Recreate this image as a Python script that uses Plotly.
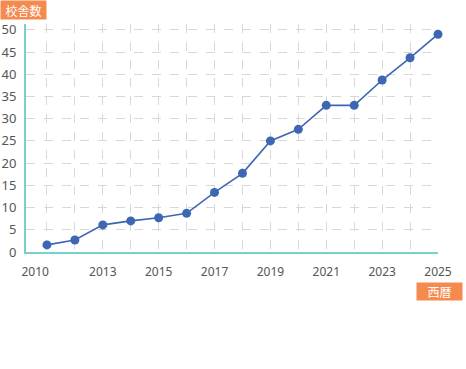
import plotly.graph_objects as go

years = list(range(2011, 2026))
schools = [1.6, 2.7, 6.1, 7.0, 7.7, 8.7, 13.4, 17.7, 25.0, 27.6, 33.0, 33.0, 38.7, 43.7, 49.0]
x_tick_labels = ["2010", "2013", "2015", "2017", "2019", "2021", "2023", "2025"]
y_title = "校舎数"
x_title = "西暦"

W, H = 466, 369
ML, MR, MT, MB = 26, 28, 24, 117
pw, ph = W - ML - MR, H - MT - MB

x_lo, x_hi = 2010.25, 2025
# first label sits just right of the axis start
x_tick_pos = [2010.58] + [float(t) for t in x_tick_labels[1:]]

def px_to_paper(px, py):
    return (px - ML) / pw, (H - MB - py) / ph

color_line = "#3d67b3"
teal = "#74d2cb"
orange = "#f58a4f"

fig = go.Figure()
fig.add_trace(go.Scatter(
    x=years, y=schools, mode="lines+markers",
    line=dict(color=color_line, width=1.6),
    marker=dict(color=color_line, size=9),
    cliponaxis=False, showlegend=False, hoverinfo="x+y",
))

bx1, by1 = px_to_paper(0, 0)
bx2, by2 = px_to_paper(416, 282)

fig.update_layout(
    width=W, height=H,
    margin=dict(l=ML, r=MR, t=MT, b=MB, pad=0, autoexpand=False),
    paper_bgcolor="white", plot_bgcolor="white",
    font=dict(family="Noto Sans, Noto Sans CJK JP, sans-serif", color="#555555"),
    xaxis=dict(
        range=[x_lo, x_hi], tickmode="array", tickvals=x_tick_pos, ticktext=x_tick_labels,
        showgrid=False, zeroline=False, showline=True, linecolor=teal, linewidth=2,
        ticks="", ticklabelstandoff=8, tickfont=dict(size=12, color="#555555"),
        automargin=False,
        minor=dict(tickmode="linear", tick0=2011, dtick=1, showgrid=True,
                   gridcolor="#d8d8d8", griddash="dash", gridwidth=1, ticks=""),
    ),
    yaxis=dict(
        range=[0, 51.3], tickmode="linear", tick0=0, dtick=5,
        showgrid=True, gridcolor="#d8d8d8", griddash="dash", gridwidth=1,
        zeroline=False, showline=True, linecolor=teal, linewidth=2,
        ticks="", ticklabelstandoff=5, tickfont=dict(size=13, color="#555555"),
        automargin=False,
    ),
    annotations=[
        dict(text=y_title, xref="paper", yref="paper", x=bx1, y=by1,
             xanchor="left", yanchor="top", showarrow=False,
             bgcolor=orange, width=45, height=18, borderpad=0,
             font=dict(color="white", size=12, family="Noto Sans CJK JP")),
        dict(text=x_title, xref="paper", yref="paper", x=bx2, y=by2,
             xanchor="left", yanchor="top", showarrow=False,
             bgcolor=orange, width=45, height=17, borderpad=0,
             font=dict(color="white", size=12, family="Noto Sans CJK JP")),
    ],
)

fig.write_html("out.html", config={"displayModeBar": False},
               post_script="document.body.style.margin='0';document.body.style.overflow='hidden';")
